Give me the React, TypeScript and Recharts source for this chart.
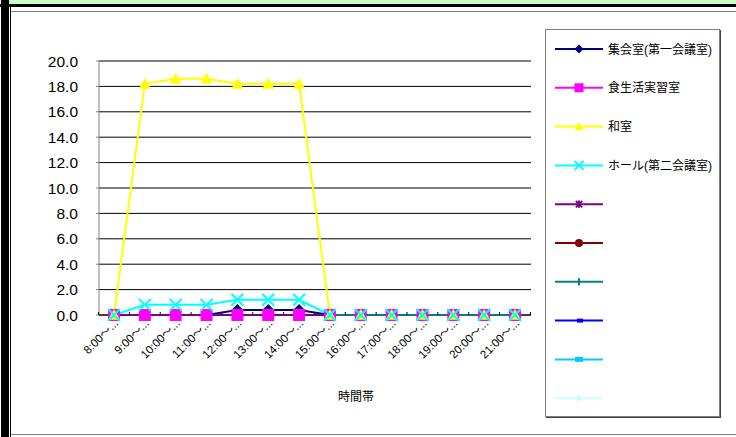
import * as React from 'react';
import { LineChart, Line, XAxis, YAxis, CartesianGrid, Legend } from 'recharts';

// time slots on the x axis
const categories = ['8:00～...', '9:00～...', '10:00～...', '11:00～...', '12:00～...', '13:00～...', '14:00～...', '15:00～...', '16:00～...', '17:00～...', '18:00～...', '19:00～...', '20:00～...', '21:00～...'];

// usage per room
const shukaishitsu = [0, 0, 0, 0, 0.4, 0.4, 0.4, 0, 0, 0, 0, 0, 0, 0];
const shokuseikatsu = [0, 0, 0, 0, 0, 0, 0, 0, 0, 0, 0, 0, 0, 0];
const washitsu = [0, 18.2, 18.6, 18.6, 18.2, 18.2, 18.2, 0, 0, 0, 0, 0, 0, 0];
const hall = [0, 0.8, 0.8, 0.8, 1.2, 1.2, 1.2, 0, 0, 0, 0, 0, 0, 0];

const yTicks = [0, 2, 4, 6, 8, 10, 12, 14, 16, 18, 20];

type Marker = 'diamond' | 'square' | 'triangle' | 'x' | 'star' | 'circle' | 'plus' | 'dash' | 'bar' | 'dot';

const series: { key: string; name: string; color: string; marker: Marker; values: number[] }[] = [
    { key: 's1', name: '集会室(第一会議室)', color: '#000080', marker: 'diamond', values: shukaishitsu },
    { key: 's2', name: '食生活実習室', color: '#ff00ff', marker: 'square', values: shokuseikatsu },
    { key: 's3', name: '和室', color: '#ffff00', marker: 'triangle', values: washitsu },
    { key: 's4', name: 'ホール(第二会議室)', color: '#00ffff', marker: 'x', values: hall },
    { key: 's5', name: '', color: '#800080', marker: 'star', values: [] },
    { key: 's6', name: '', color: '#800000', marker: 'circle', values: [] },
    { key: 's7', name: '', color: '#008080', marker: 'plus', values: [] },
    { key: 's8', name: '', color: '#0000ff', marker: 'dash', values: [] },
    { key: 's9', name: '', color: '#00ccff', marker: 'bar', values: [] },
    { key: 's10', name: '', color: '#ccffff', marker: 'dot', values: [] },
];

const data = categories.map((c, i) => {
    const row: any = { name: c };
    series.forEach(s => {
        row[s.key] = i < s.values.length ? s.values[i] : null;
    });
    return row;
});

const jp = "'Liberation Sans', 'Noto Sans CJK JP', sans-serif";

function MarkerShape({ x, y, marker, color, k }: { x: number; y: number; marker: Marker; color: string; k: number }) {
    const h = 6 * k;
    switch (marker) {
        case 'diamond':
            return <polygon points={`${x},${y - h} ${x + h},${y} ${x},${y + h} ${x - h},${y}`} fill={color} />;
        case 'square':
            return <rect x={x - h} y={y - h} width={2 * h} height={2 * h} fill={color} />;
        case 'triangle':
            return <polygon points={`${x},${y - h} ${x + h},${y + h * 0.8} ${x - h},${y + h * 0.8}`} fill={color} />;
        case 'x':
            return (
                <g stroke={color} strokeWidth={2}>
                    <line x1={x - h} y1={y - h} x2={x + h} y2={y + h} />
                    <line x1={x - h} y1={y + h} x2={x + h} y2={y - h} />
                </g>
            );
        case 'star':
            return (
                <g stroke={color} strokeWidth={2}>
                    <line x1={x - h * 0.7} y1={y - h * 0.7} x2={x + h * 0.7} y2={y + h * 0.7} />
                    <line x1={x - h * 0.7} y1={y + h * 0.7} x2={x + h * 0.7} y2={y - h * 0.7} />
                    <line x1={x} y1={y - h * 0.8} x2={x} y2={y + h * 0.8} />
                </g>
            );
        case 'circle':
            return <circle cx={x} cy={y} r={h * 0.9} fill={color} />;
        case 'plus':
            return <line x1={x} y1={y - h * 0.8} x2={x} y2={y + h * 0.8} stroke={color} strokeWidth={2} />;
        case 'dash':
            return <rect x={x - 2} y={y - 2} width={6} height={4} fill={color} />;
        case 'bar':
            return <rect x={x - 4} y={y - 2.5} width={8} height={5} fill={color} />;
        case 'dot':
            return <polygon points={`${x},${y - 4} ${x + 4},${y} ${x},${y + 4} ${x - 4},${y}`} fill={color} />;
    }
    return null;
}

const makeDot = (marker: Marker, color: string) => (props: any) => {
    const { cx, cy, index } = props;
    if (cy == null || cx == null) return <g key={index} />;
    return (
        <g key={index}>
            <MarkerShape x={cx} y={cy} marker={marker} color={color} k={1} />
        </g>
    );
};

const XTick = (props: any) => {
    const { x, y, payload, index } = props;
    const half = 15.4;
    return (
        <g>
            {index === 0 && <line x1={x - half} y1={y} x2={x - half} y2={y - 3} stroke="#000" />}
            <line x1={x + half} y1={y} x2={x + half} y2={y - 3} stroke="#000" />
            <text x={x + 5} y={y + 9} transform={`rotate(-45, ${x + 5}, ${y + 9})`} textAnchor="end" fontSize={11.5} fontFamily={jp} fill="#000">
                {payload.value}
            </text>
        </g>
    );
};

const LegendBox = () => (
    <div style={{ width: 175, height: 388, boxSizing: 'border-box', border: '1px solid #808080', boxShadow: '1px 1px 0 #404040', background: '#fff' }}>
        <svg width={173} height={386}>
            {series.map((s, i) => {
                const cy = 19 + i * 38.8;
                return (
                    <g key={s.key}>
                        <line x1={9} y1={cy} x2={57} y2={cy} stroke={s.color} strokeWidth={2} />
                        <MarkerShape x={33} y={cy} marker={s.marker} color={s.color} k={0.75} />
                        <text x={62} y={cy + 4.5} fontSize={12} fontFamily={jp} fill="#000">{s.name}</text>
                    </g>
                );
            })}
        </svg>
    </div>
);

export default function App() {
    return (
        <div style={{ position: 'absolute', left: 0, top: 0, width: 736, height: 437, overflow: 'hidden', background: '#fff' }}>
            <div style={{ position: 'absolute', left: 9, top: 0, width: 727, height: 4, background: '#ccffcc' }} />
            <div style={{ position: 'absolute', left: 0, top: 4, width: 736, height: 3, background: '#000' }} />
            <div style={{ position: 'absolute', left: 1, top: 0, width: 8, height: 437, background: '#000' }} />
            <div style={{ position: 'absolute', left: 10, top: 7, width: 1, height: 430, background: '#000' }} />
            <div style={{ position: 'absolute', left: 11, top: 11, width: 740, height: 422, borderTop: '1px solid #808080', borderBottom: '1px solid #808080' }} />
            <div style={{ position: 'absolute', left: 0, top: 0 }}>
                <LineChart width={736} height={437} data={data} margin={{ top: 61, right: 205, left: 39, bottom: 32 }}>
                    <CartesianGrid horizontal={true} vertical={false} stroke="#000" strokeWidth={1} />
                    <XAxis
                        dataKey="name"
                        height={90}
                        padding={{ left: 15, right: 16 }}
                        interval={0}
                        tickLine={false}
                        tickSize={0}
                        tickMargin={0}
                        tick={<XTick />}
                        axisLine={{ stroke: '#000' }}
                        label={{ value: '時間帯', position: 'insideBottom', offset: 4, dx: 41, fontSize: 12, fontFamily: jp, fill: '#000' }}
                    />
                    <YAxis
                        width={60}
                        domain={[0, 20]}
                        ticks={yTicks}
                        interval={0}
                        tickFormatter={(v: number) => v.toFixed(1)}
                        tickSize={3}
                        tickMargin={18}
                        axisLine={{ stroke: '#808080' }}
                        tickLine={{ stroke: '#808080' }}
                        tick={{ fontSize: 15.5, fontFamily: "'Liberation Sans', Arial, sans-serif", fill: '#000' }}
                    />
                    <Legend
                        layout="vertical"
                        align="center"
                        verticalAlign="middle"
                        wrapperStyle={{ left: 545, top: 29, width: 175, height: 388 }}
                        content={() => <LegendBox />}
                    />
                    {series.map(s => (
                        <Line
                            key={s.key}
                            dataKey={s.key}
                            name={s.name || s.key}
                            stroke={s.color}
                            strokeWidth={2}
                            dot={makeDot(s.marker, s.color)}
                            activeDot={false}
                            isAnimationActive={false}
                        />
                    ))}
                </LineChart>
            </div>
        </div>
    );
}
